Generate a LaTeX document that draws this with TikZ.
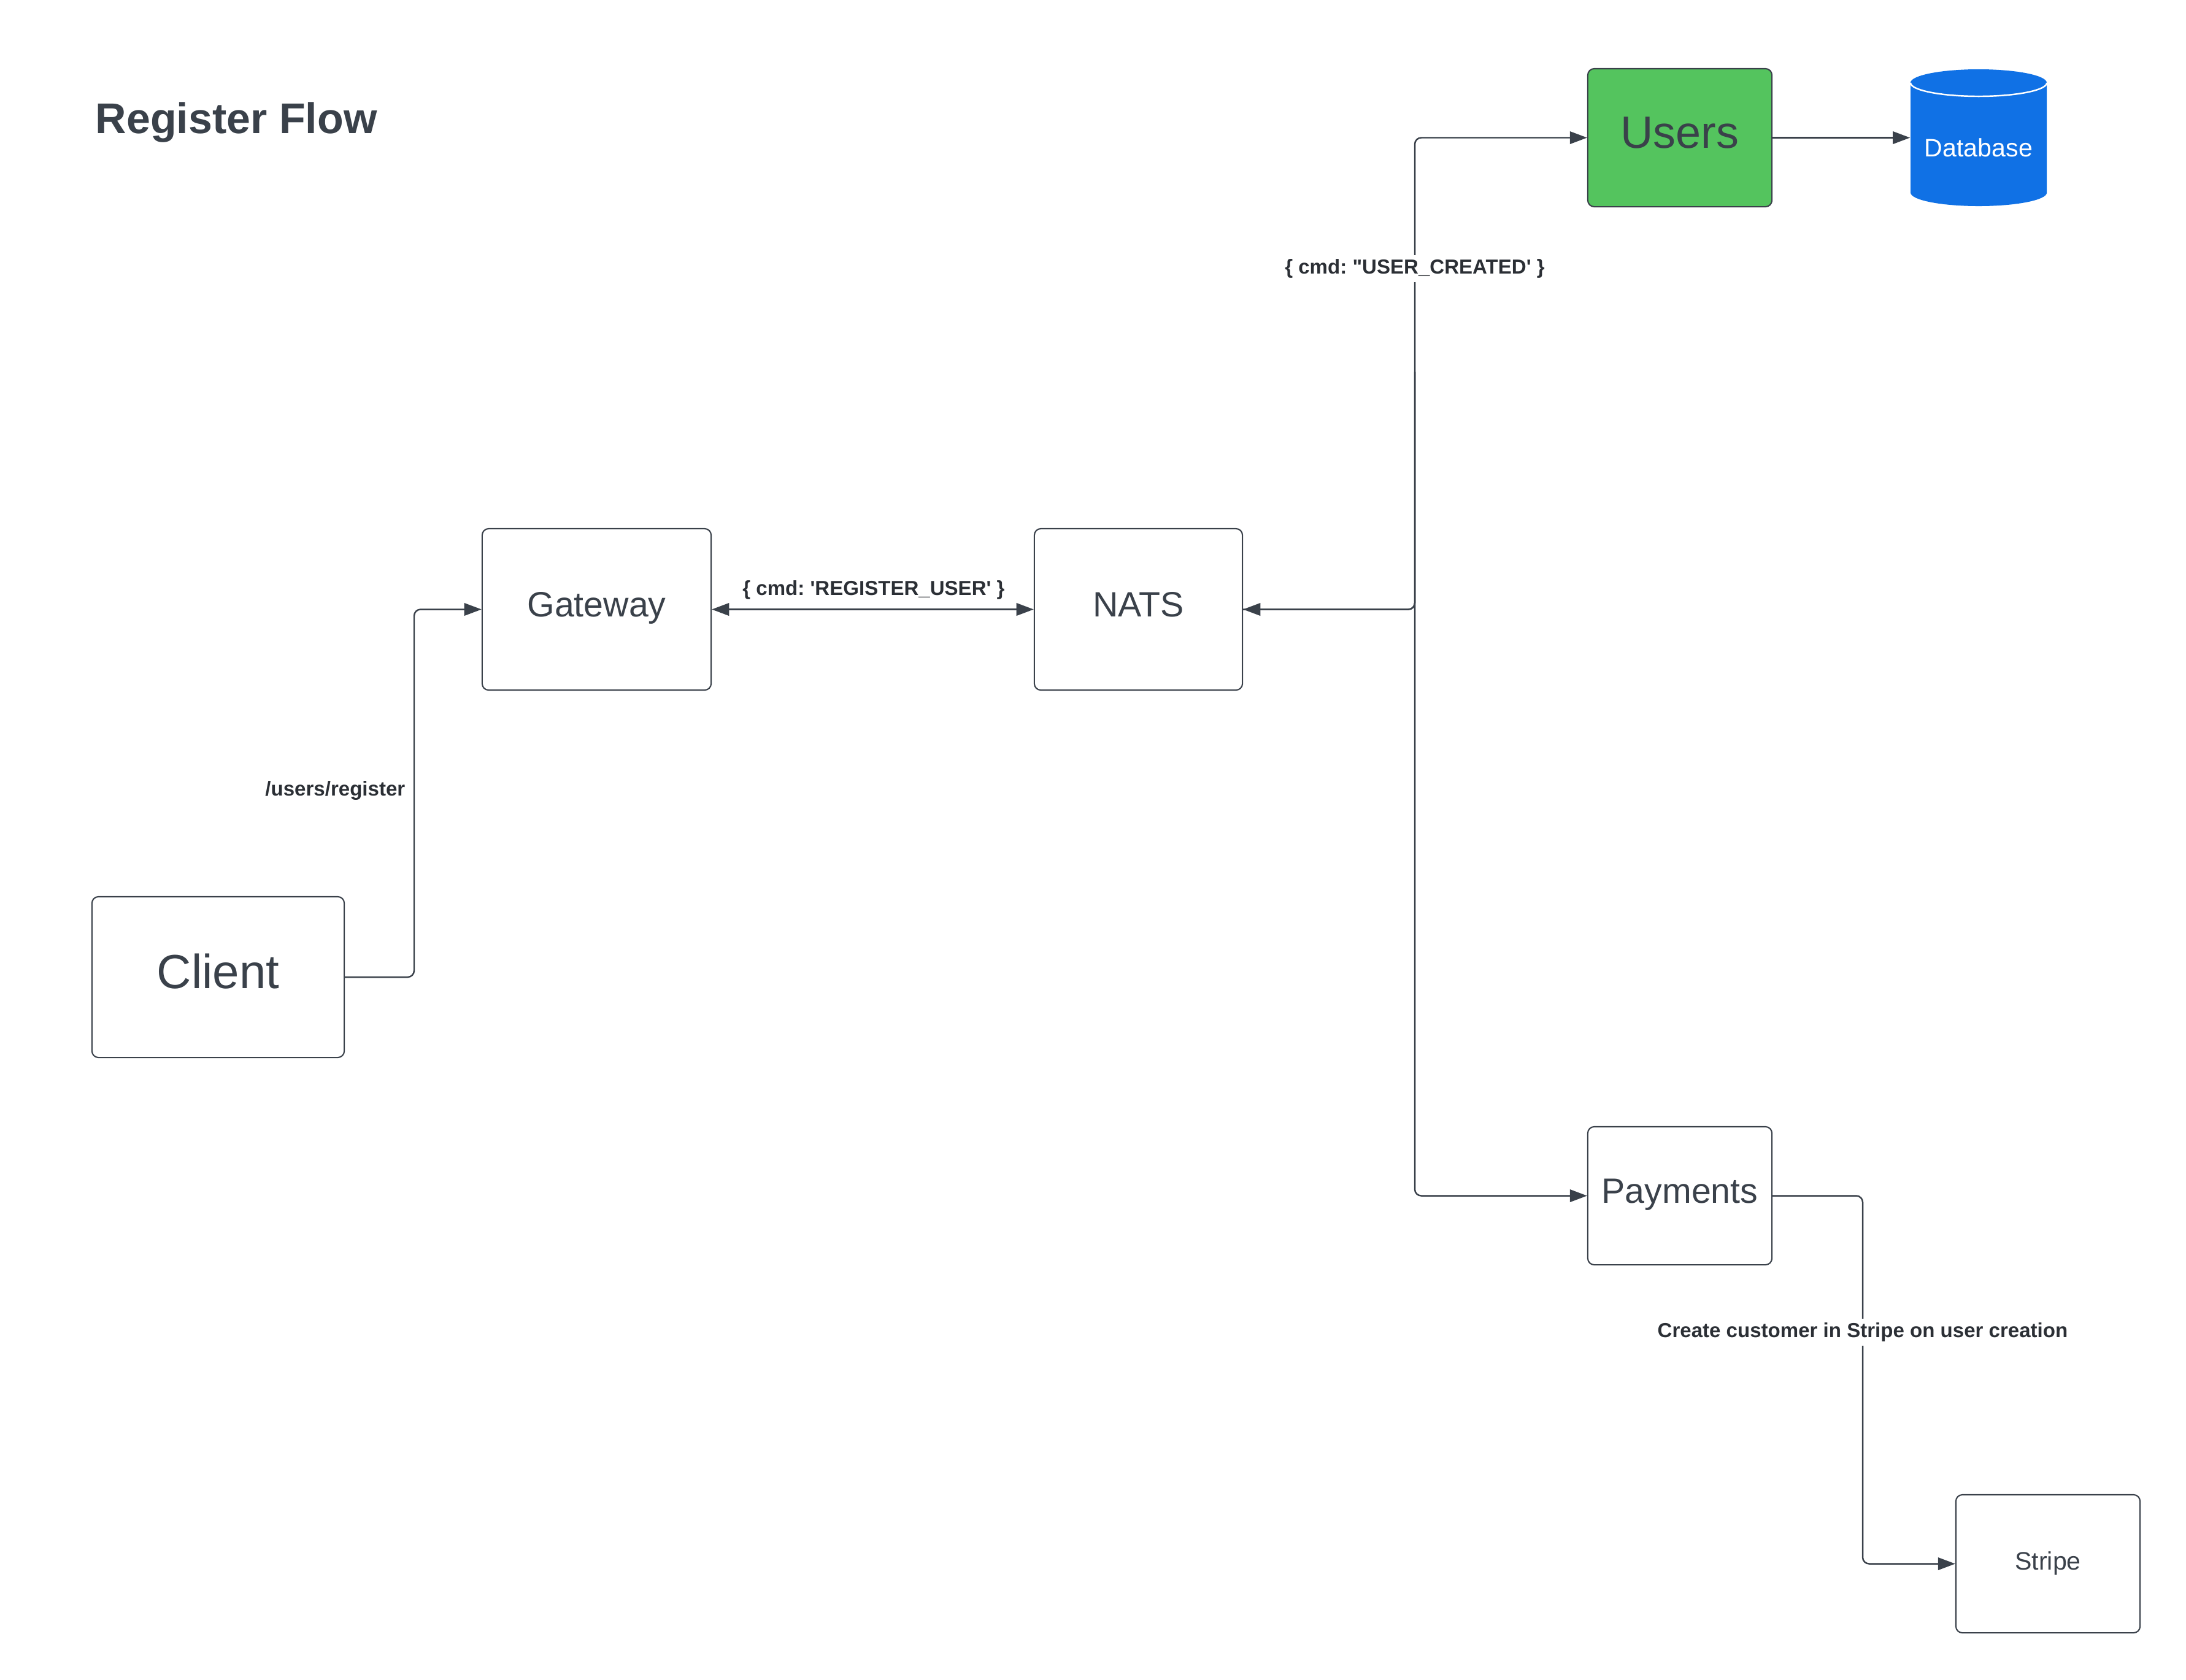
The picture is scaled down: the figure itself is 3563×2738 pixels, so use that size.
\documentclass[tikz,border=0pt]{standalone}
\usepackage{fontspec}
\setmainfont{Liberation Sans}[Ligatures=TeXOff]
\usetikzlibrary{arrows.meta}
\definecolor{ink}{HTML}{3A414A}
\definecolor{lbl}{HTML}{2B2F35}
\definecolor{ugreen}{HTML}{54C45E}
\definecolor{dbblue}{HTML}{1071E5}
\frenchspacing
\begin{document}
\begin{tikzpicture}[x=0.01cm,y=-0.01cm,
  box/.style={draw=ink, line width=0.6pt, rounded corners=3pt, text=ink, inner sep=0pt},
  conn/.style={draw=ink, line width=0.7pt, rounded corners=3pt, -{Triangle[length=8pt,width=5.8pt]}},
  biconn/.style={draw=ink, line width=0.7pt, rounded corners=3pt, {Triangle[length=8pt,width=5.8pt]}-{Triangle[length=8pt,width=5.8pt]}},
  lab/.style={fill=white, text=lbl, font=\frenchspacing\bfseries\fontsize{9.4}{11}\selectfont, inner sep=2pt},
  bigfont/.style={font=\fontsize{22.2}{26}\selectfont, text height=16pt, text depth=5.22pt},
  usersfont/.style={font=\fontsize{21}{25}\selectfont, text height=16pt, text depth=6.08pt},
  midfont/.style={font=\fontsize{16.3}{19}\selectfont, text height=12pt, text depth=5.45pt},
  smallfont/.style={font=\fontsize{11.7}{14}\selectfont, text height=9pt, text depth=3.22pt}]
\useasboundingbox (0,0) rectangle (3563,2738);
\fill[white] (0,0) rectangle (3563,2738);

% title
\node[anchor=base west, inner sep=0pt, text=ink, font=\bfseries\fontsize{19.9}{24}\selectfont] (title) at (155,217) {Register Flow};

% nodes
\node[box, bigfont, minimum width=4.11cm, minimum height=2.62cm] (client) at (355.5,1593) {Client};
\node[box, midfont, minimum width=3.73cm, minimum height=2.63cm] (gateway) at (972.5,993.5) {Gateway};
\node[box, midfont, minimum width=3.39cm, minimum height=2.63cm] (nats) at (1855.5,993.5) {NATS};
\node[box, usersfont, fill=ugreen, minimum width=3.00cm, minimum height=2.25cm] (users) at (2738,224.5) {Users};
\node[box, midfont, minimum width=3.00cm, minimum height=2.25cm] (payments) at (2738,1949.5) {Payments};
\node[box, smallfont, minimum width=3.00cm, minimum height=2.25cm] (stripe) at (3338,2549.5) {Stripe};

% database cylinder
\node[minimum width=2.22cm, minimum height=2.23cm, inner sep=0pt] (db) at (3225,224.5) {};
\fill[dbblue] (3114,135) -- (3114,314) arc[start angle=180, end angle=360, x radius=1.11cm, y radius=0.22cm]
  -- (3336,135) arc[start angle=0, end angle=180, x radius=1.11cm, y radius=0.22cm] -- cycle;
\draw[white, line width=0.7pt] (3114,135) arc[start angle=180, end angle=360, x radius=1.11cm, y radius=0.22cm];
\node[font=\fontsize{11.7}{14}\selectfont, text=white, inner sep=0pt] (dblabel) at (3225,241) {Database};

% bend coordinates
\coordinate (bendA) at (675,1300);
\coordinate (busx) at (2306,600);
\coordinate (busy) at (3036,2200);

% connectors
\draw[conn] (client.east) -| (bendA) |- (gateway.west);
\node[anchor=east, lab, fill=none, inner sep=0pt] (lregister) at (661,1289) {/users/register};

\draw[biconn] (gateway.east) -- (nats.west);
\node[lab, fill=none] (lreguser) at (1424,962) {\{ cmd: 'REGISTER\_USER' \}};

\draw[biconn] (nats.east) -| (busx) |- (users.west);
\draw[conn] (nats.east) -| (busx) |- (payments.west);
\node[lab] (lcreated) at (2306,438) {\{ cmd: "USER\_CREATED' \}};

\draw[conn] (users.east) -- (db.west);

\draw[conn] (payments.east) -| (busy) |- (stripe.west);
\node[lab] (lstripe) at (3036,2172) {Create customer in Stripe on user creation};
\end{tikzpicture}
\end{document}
